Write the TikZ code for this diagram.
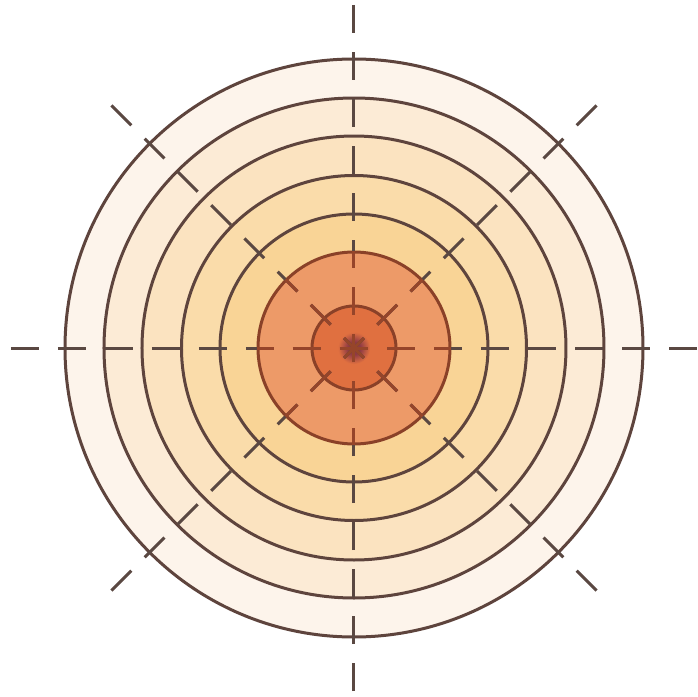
\documentclass[tikz,border=0pt]{standalone}
\definecolor{cA}{HTML}{F9D496}
\definecolor{cB}{HTML}{FADCAA}
\definecolor{cC}{HTML}{FBE3C0}
\definecolor{cD}{HTML}{FCEBD6}
\definecolor{cE}{HTML}{FDF4EB}
\definecolor{orangeRing}{HTML}{ED9A68}
\definecolor{redIn}{HTML}{E07040}
\definecolor{spot}{HTML}{8E3A44}
\definecolor{ringline}{HTML}{5E443D}
\definecolor{innerline}{HTML}{8A4128}
\definecolor{dashcol}{HTML}{5A4842}
\definecolor{innerdash}{HTML}{96452A}
\pgfdeclareradialshading{spotglow}{\pgfpoint{0bp}{0bp}}{color(0bp)=(spot); color(10bp)=(spot); color(25bp)=(redIn); color(50bp)=(redIn)}
\tikzset{
  ring/.style={draw=ringline, line width=3pt},
  innerring/.style={draw=innerline, line width=3pt},
  radial/.style={draw=dashcol, line width=3pt, dash pattern=on 28pt off 19pt},
  innerradial/.style={draw=innerdash, line width=3pt, dash pattern=on 28pt off 19pt}
}
\begin{document}
\begin{tikzpicture}[x=1pt,y=1pt]
\useasboundingbox[fill=white] (-354,-349) rectangle (343,348);
% fills
\fill[cE] (0,0) circle[radius=289pt];
\fill[cD] (0,0) circle[radius=250pt];
\fill[cC] (0,0) circle[radius=212pt];
\fill[cB] (0,0) circle[radius=172.5pt];
\fill[cA] (0,0) circle[radius=134pt];
\fill[orangeRing] (0,0) circle[radius=96pt];
\fill[redIn] (0,0) circle[radius=42pt];
\shade[shading=spotglow] (0,0) circle[radius=16pt];
% circles
\foreach \r in {289,250,212,172.5,134}{
  \draw[ring] (0,0) circle[radius=\r pt];
}
\draw[innerring] (0,0) circle[radius=96pt];
\draw[innerring] (0,0) circle[radius=42pt];
% radial dashed lines
\foreach \a in {0,45,...,315}{
  \draw[radial] (\a:343pt) -- (0,0);
}
\begin{scope}
  \clip (0,0) circle[radius=97pt];
  \foreach \a in {0,45,...,315}{
    \draw[innerradial] (\a:343pt) -- (0,0);
  }
\end{scope}
\end{tikzpicture}
\end{document}
